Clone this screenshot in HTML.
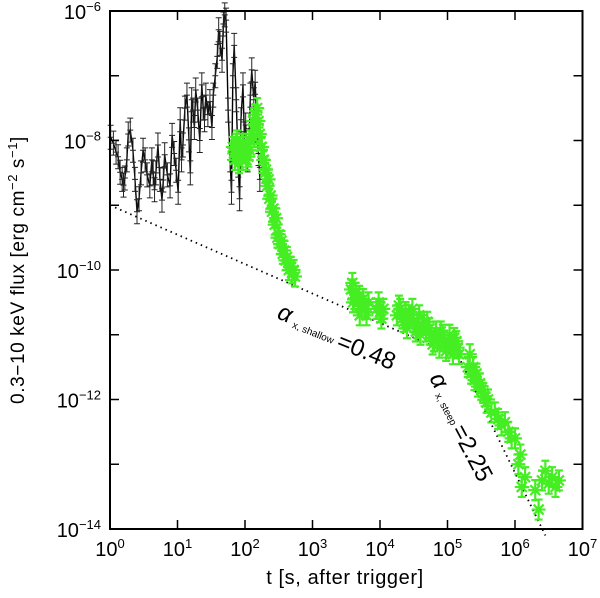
<!DOCTYPE html>
<html><head><meta charset="utf-8"><style>
body{margin:0;background:#fff;}
svg{display:block;font-family:"Liberation Sans",sans-serif;}
</style></head><body>
<svg id="chart" width="600" height="598" viewBox="0 0 600 598">
<g id="marks"></g>
<rect x="110" y="11" width="472.5" height="518" fill="none" stroke="#000" stroke-width="2"/>
<g id="axes"></g>
<text x="24" y="270" transform="rotate(-90 24 270)" text-anchor="middle" font-size="19" letter-spacing="0.6">0.3−10 keV flux [erg cm<tspan dy="-7" font-size="13">−2</tspan><tspan dy="7"> s</tspan><tspan dy="-7" font-size="13">−1</tspan><tspan dy="7">]</tspan></text>
<text x="345" y="584" text-anchor="middle" font-size="20" letter-spacing="0.6">t [s, after trigger]</text>
<g transform="translate(276,318) rotate(22)">
<text x="0" y="0" font-size="24" font-style="italic">α</text><text x="18" y="3" font-size="10">x, shallow</text><text x="66" y="5" font-size="24">=0.48</text></g>
<g transform="translate(429,378) rotate(62)">
<text x="0" y="0" font-size="24" font-style="italic">α</text><text x="18" y="3" font-size="10">x, steep</text><text x="56" y="5" font-size="24">=2.25</text></g>
</svg>
<script>
const xTickExp=[0,1,2,3,4,5,6,7];
const yTickExp=[-6,-7,-8,-9,-10,-11,-12,-13,-14];
const yLabelExp=[-6,-8,-10,-12,-14];
const blackT=[0.01,0.05,0.09,0.12,0.15,0.18,0.20,0.22,0.25,0.27,0.30,0.34,0.37,0.40,0.43,0.46,0.49,0.52,0.55,0.59,0.62,0.64,0.66,0.68,0.71,0.74,0.77,0.79,0.81,0.85,0.89,0.92,0.95,0.98,1.01,1.04,1.06,1.08,1.11,1.14,1.17,1.19,1.21,1.23,1.25,1.27,1.30,1.33,1.36,1.38,1.40,1.42,1.45,1.48,1.51,1.53,1.56,1.59,1.61,1.63,1.66,1.68,1.70,1.72,1.75,1.78,1.80,1.82,1.84,1.87,1.90,1.92,1.94,1.97,1.99,2.01,2.04,2.06,2.08,2.10,2.13,2.15,2.18,2.20,2.22];
const blackF=[-7.95,-8.04,-8.18,-8.25,-8.49,-8.6,-8.69,-8.58,-8.3,-7.9,-7.84,-8.15,-8.6,-9.10,-8.9,-8.5,-8.15,-8.3,-8.53,-8.7,-8.30,-8.5,-8.76,-8.5,-8.07,-8.6,-8.92,-8.61,-8.22,-8.53,-8.7,-7.92,-8.2,-8.46,-8.8,-7.68,-8.3,-8.07,-7.5,-7.30,-7.99,-8.5,-7.37,-7.53,-7.8,-7.22,-7.53,-8.0,-7.14,-7.5,-7.68,-7.3,-7.6,-7.4,-7.8,-7.3,-7.0,-6.7,-6.29,-6.5,-6.76,-6.2,-6.06,-6.14,-7.53,-8.30,-8.8,-7.0,-6.53,-7.37,-8.38,-8.9,-7.68,-7.14,-7.9,-7.76,-8.30,-8.0,-7.3,-6.91,-7.37,-7.1,-7.84,-8.2,-8.6];
const greenT=[1.82,1.84,1.85,1.87,1.88,1.90,1.91,1.93,1.95,1.96,1.97,2.00,2.02,2.03,2.05,2.07,2.08,2.10,2.12,2.13,2.15,2.17,2.18,2.20,2.22,2.24,2.25,2.27,2.28,2.30,2.31,2.33,2.35,2.36,2.38,2.40,2.42,2.44,2.46,2.48,2.50,2.52,2.54,2.56,2.58,2.60,2.62,2.65,2.68,2.70,2.72,2.74,
3.57,3.59,3.60,3.62,3.64,3.67,3.69,3.70,3.72,3.75,3.78,3.80,3.83,3.95,3.98,4.00,4.02,4.05,4.25,4.28,4.30,4.33,4.35,4.38,4.40,4.43,4.45,4.48,4.50,4.53,4.55,4.58,4.60,4.63,4.65,4.68,4.70,4.73,4.75,4.78,4.80,4.83,4.85,4.88,4.90,4.93,4.95,4.98,5.00,5.03,5.05,5.08,5.10,5.13,5.15,5.17,5.30,5.33,5.35,5.38,5.40,5.43,5.45,5.48,5.50,5.53,5.55,5.58,5.60,5.65,5.70,5.75,5.80,5.85,5.90,5.95,6.00,6.05,6.08,6.10,6.15,6.30,6.35,6.40,6.45,6.50,6.55,6.60,6.65];
const greenF=[-8.1,-8.2,-8.3,-8.05,-8.0,-8.2,-8.35,-8.1,-8.3,-8.15,-8.05,-8.2,-8.3,-8.1,-8.25,-8.15,-8.0,-7.9,-7.7,-7.95,-7.6,-7.8,-7.5,-7.7,-7.9,-8.1,-8.1,-8.3,-8.3,-8.5,-8.45,-8.7,-8.6,-8.9,-8.85,-9.1,-9.05,-9.3,-9.2,-9.5,-9.45,-9.6,-9.55,-9.75,-9.7,-9.85,-9.8,-10.0,-9.95,-10.05,-10.0,-10.1,
-10.3,-10.2,-10.5,-10.45,-10.35,-10.5,-10.4,-10.7,-10.55,-10.45,-10.6,-10.7,-10.5,-10.6,-10.5,-10.65,-10.75,-10.6,-10.7,-10.55,-10.6,-10.75,-10.8,-10.65,-10.9,-10.7,-10.75,-10.6,-10.8,-10.95,-10.9,-10.7,-11.0,-10.85,-10.8,-10.95,-10.8,-10.9,-11.0,-11.15,-11.1,-10.95,-11.05,-11.2,-10.95,-11.0,-11.1,-11.25,-11.2,-11.0,-11.15,-11.3,-11.05,-11.1,-11.2,-11.3,-11.5,-11.3,-11.6,-11.5,-11.7,-11.6,-11.8,-11.75,-11.85,-11.9,-11.95,-12.05,-12.0,-12.2,-12.2,-12.3,-12.4,-12.35,-12.5,-12.6,-12.6,-13.0,-12.85,-13.35,-13.2,-13.4,-13.7,-13.25,-13.1,-13.3,-13.2,-13.35,-13.25];
const fitT=[0,5.17,6.45];
const fitF=[-9.0,-11.35,-14.1];
const NS='http://www.w3.org/2000/svg';
const X=v=>110+v*67.5, Y=v=>11+(-6-v)*64.75;
const marks=document.getElementById('marks'), axes=document.getElementById('axes');
function mk(tag,attrs,parent){const e=document.createElementNS(NS,tag);for(const k in attrs)e.setAttribute(k,attrs[k]);parent.appendChild(e);return e;}
xTickExp.forEach(e=>{
 const t=mk('path',{d:`M${X(e)} 529v-9M${X(e)} 11v9`,stroke:'#000','stroke-width':1.5},axes);
 
 
 const l=mk('text',{x:X(e),y:556,'text-anchor':'middle','font-size':20},axes);
 
 
 l.innerHTML=`10<tspan dy="-8" font-size="13">${e}</tspan>`;
});
yTickExp.forEach(e=>{
 const t=mk('path',{d:`M110 ${Y(e)}h9M582.5 ${Y(e)}h-9`,stroke:'#000','stroke-width':1.5},axes);
 
 
});
yLabelExp.forEach(e=>{
 const l=mk('text',{x:101,y:Y(e)+8,'text-anchor':'end','font-size':20},axes);
 
 
 l.innerHTML=`10<tspan dy="-8" font-size="13">${String(e).replace('-','−')}</tspan>`;
});
let fd='';fitT.forEach((t,i)=>fd+=(i?'L':'M')+X(t)+' '+Y(fitF[i]));
const fit=mk('path',{d:fd,fill:'none',stroke:'#000','stroke-width':1.8,'stroke-dasharray':'1.5 4'},marks);


let bd='';blackT.forEach((t,i)=>bd+=(i?'L':'M')+X(t)+' '+Y(blackF[i]));
const bl=mk('path',{d:bd,fill:'none',stroke:'#000','stroke-width':1.4},marks);


blackT.forEach((t,i)=>{
 const x=X(t),y=Y(blackF[i]),e=12;
 const p=mk('path',{d:`M${x} ${y-e}V${y+e}M${x-3} ${y-e}h6M${x-3} ${y+e}h6M${x-3} ${y}h6`,stroke:'#222','stroke-width':1},marks);
 
 
});
greenT.forEach((t,i)=>{
 const x=X(t),y=Y(greenF[i]),e=10,s=5;
 const p=mk('path',{d:`M${x} ${y-e}V${y+e}M${x-4} ${y-e}h8M${x-4} ${y+e}h8M${x-s} ${y-s}l${2*s} ${2*s}M${x-s} ${y+s}l${2*s} ${-2*s}M${x-7} ${y}h14`,stroke:'#44ee22','stroke-width':2.2},marks);
 
 
});
</script>
</body></html>
